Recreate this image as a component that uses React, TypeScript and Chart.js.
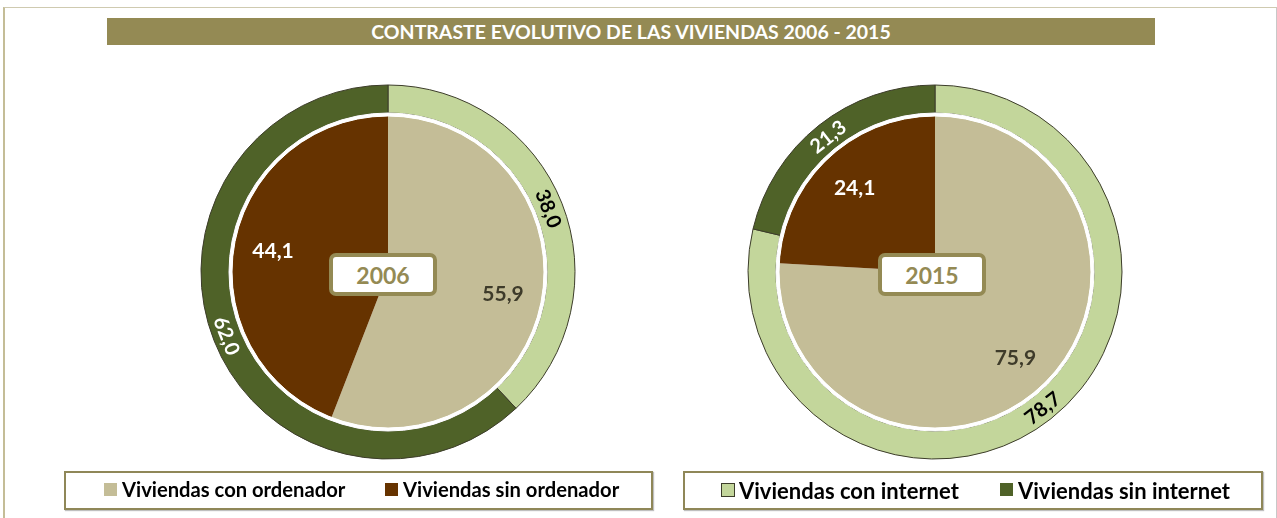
import React, { useEffect, useRef } from 'react';
import { Chart, registerables } from 'chart.js';
Chart.register(...registerables);

const chartTitle = 'CONTRASTE EVOLUTIVO DE LAS VIVIENDAS 2006 - 2015';
const years = ['2006', '2015'];
const pcCategories = ['Viviendas con ordenador', 'Viviendas sin ordenador'];
const netCategories = ['Viviendas con internet', 'Viviendas sin internet'];
const pc2006 = [55.9, 44.1];
const net2006 = [38.0, 62.0];
const pc2015 = [75.9, 24.1];
const net2015 = [78.7, 21.3];

const PC_COLORS = ['#C4BD97', '#663300'];
const NET_COLORS = ['#C3D69B', '#4F6228'];
const PC_LABEL_COLORS = ['#3E3B2A', '#FFFFFF'];
const NET_LABEL_COLORS = ['#000000', '#FFFFFF'];
const OLIVE = '#948A54';
const FONT = 'Lato, Carlito, Calibri, "Open Sans", sans-serif';

const fmt = (v: number) => v.toFixed(1).replace('.', ',');

const arcLabels = {
  id: 'arcLabels',
  afterDatasetsDraw(chart: any) {
    const ctx = chart.ctx;
    chart.data.datasets.forEach((ds: any, di: number) => {
      const kind = ds.labelKind;
      if (!kind) return;
      const meta = chart.getDatasetMeta(di);
      meta.data.forEach((arc: any, i: number) => {
        const p = arc.getProps(['x', 'y', 'startAngle', 'endAngle', 'innerRadius', 'outerRadius'], true);
        const mid = (p.startAngle + p.endAngle) / 2;
        const r = kind === 'ring' ? (p.innerRadius + p.outerRadius) / 2 : p.outerRadius * 0.75;
        const px = p.x + Math.cos(mid) * r;
        const py = p.y + Math.sin(mid) * r;
        ctx.save();
        ctx.translate(px, py);
        if (kind === 'ring') {
          let rot = mid + Math.PI / 2;
          const TWO = Math.PI * 2;
          rot = ((rot % TWO) + TWO) % TWO;
          if (rot > Math.PI / 2 && rot < (3 * Math.PI) / 2) rot -= Math.PI;
          ctx.rotate(rot);
        }
        ctx.font = (kind === 'ring' ? 'bold 20px ' : 'bold 21px ') + FONT;
        ctx.fillStyle = ds.labelColors[i];
        ctx.textAlign = 'center';
        ctx.textBaseline = 'middle';
        ctx.fillText(fmt(ds.data[i]), 0, 1);
        ctx.restore();
      });
    });
  },
};

function makeConfig(pc: number[], net: number[]): any {
  return {
    type: 'doughnut',
    data: {
      labels: [0, 1],
      datasets: [
        {
          data: net,
          backgroundColor: NET_COLORS,
          borderColor: '#3C3C2A',
          borderWidth: 1,
          weight: 28,
          labelKind: 'ring',
          labelColors: NET_LABEL_COLORS,
        },
        {
          data: [1],
          backgroundColor: ['#FFFFFF'],
          borderColor: '#FFFFFF',
          borderWidth: 1,
          weight: 3,
          order: -1,
        },
        {
          data: pc,
          backgroundColor: PC_COLORS,
          borderColor: PC_COLORS,
          borderWidth: 0,
          weight: 156,
          labelKind: 'pie',
          labelColors: PC_LABEL_COLORS,
        },
      ],
    },
    options: {
      animation: false,
      responsive: false,
      maintainAspectRatio: false,
      radius: 187,
      cutout: 0,
      events: [],
      layout: { padding: 0 },
      plugins: { legend: { display: false }, tooltip: { enabled: false }, title: { display: false } },
    },
    plugins: [arcLabels],
  };
}

function PieChart({ pc, net, left }: { pc: number[]; net: number[]; left: number }) {
  const ref = useRef<HTMLCanvasElement>(null);
  useEffect(() => {
    if (!ref.current) return;
    const c = new Chart(ref.current, makeConfig(pc, net));
    return () => c.destroy();
  }, []);
  return (
    <canvas
      ref={ref}
      width={400}
      height={400}
      style={{ position: 'absolute', left, top: 72, width: 400, height: 400 }}
    />
  );
}

function YearBox({ label, left }: { label: string; left: number }) {
  return (
    <div
      style={{
        position: 'absolute',
        left,
        top: 253,
        width: 100,
        height: 35,
        border: '4px solid ' + OLIVE,
        borderRadius: 7,
        background: '#FFFFFF',
        color: OLIVE,
        font: 'bold 23px ' + FONT,
        display: 'flex',
        alignItems: 'center',
        justifyContent: 'center',
        boxSizing: 'content-box',
      }}
    >
      {label}
    </div>
  );
}

function LegendItem({ x, color, border, text, size }: { x: number; color: string; border?: string; text: string; size: number }) {
  return (
    <>
      <div
        style={{
          position: 'absolute',
          left: x,
          top: 483,
          width: border ? 12 : 13,
          height: border ? 12 : 13,
          background: color,
          border: border ? '1px solid ' + border : 'none',
        }}
      />
      <div
        style={{
          position: 'absolute',
          left: x + 18,
          top: 477,
          height: 26,
          lineHeight: '26px',
          font: 'bold ' + size + 'px ' + FONT,
          color: '#000',
          whiteSpace: 'nowrap',
        }}
      >
        {text}
      </div>
    </>
  );
}

export default function App() {
  return (
    <div
      style={{
        position: 'absolute',
        left: 0,
        top: 0,
        width: 1277,
        height: 518,
        background: '#FFFFFF',
        overflow: 'hidden',
        fontFamily: FONT,
      }}
    >
      <div
        style={{
          position: 'absolute',
          left: 3,
          top: 7,
          width: 1271,
          height: 540,
          borderLeft: '2px solid #C4BD97',
          borderTop: '1px solid #CFCAB0',
          borderRight: '1px solid #C8C8C8',
        }}
      />
      <div
        style={{
          position: 'absolute',
          left: 107,
          top: 18,
          width: 1048,
          height: 27,
          background: OLIVE,
          color: '#FFFFFF',
          font: 'bold 19.5px ' + FONT,
          display: 'flex',
          alignItems: 'center',
          justifyContent: 'center',
        }}
      >
        {chartTitle}
      </div>
      <PieChart pc={pc2006} net={net2006} left={188} />
      <PieChart pc={pc2015} net={net2015} left={735} />
      <YearBox label={years[0]} left={329} />
      <YearBox label={years[1]} left={878} />
      <div
        style={{
          position: 'absolute',
          left: 64,
          top: 471,
          width: 585,
          height: 35,
          border: '2px solid #8F8758',
          boxShadow: '1px 1px 1px rgba(0,0,0,0.25)',
        }}
      />
      <div
        style={{
          position: 'absolute',
          left: 683,
          top: 471,
          width: 576,
          height: 35,
          border: '2px solid #8F8758',
          boxShadow: '1px 1px 1px rgba(0,0,0,0.25)',
        }}
      />
      <LegendItem x={104} size={20.2} color={PC_COLORS[0]} text={pcCategories[0]} />
      <LegendItem x={385} size={20.2} color={PC_COLORS[1]} text={pcCategories[1]} />
      <LegendItem x={721} size={22} color={NET_COLORS[0]} border="#3C3C2A" text={netCategories[0]} />
      <LegendItem x={1000} size={22} color={NET_COLORS[1]} text={netCategories[1]} />
    </div>
  );
}
